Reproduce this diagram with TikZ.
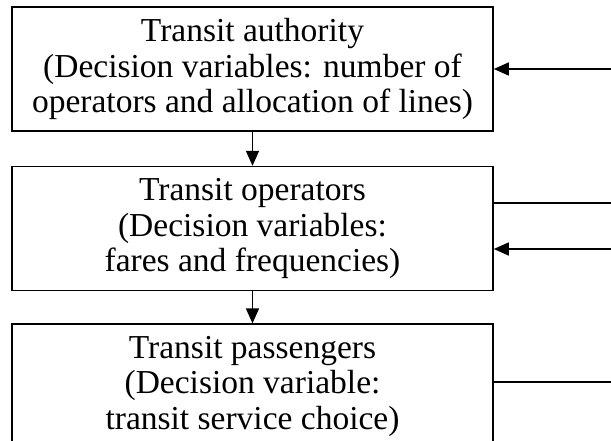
\documentclass[tikz,border=0pt]{standalone}
\usepackage{fontspec}
\setmainfont{Liberation Serif}
\usetikzlibrary{arrows.meta,positioning,calc}
\definecolor{ink}{HTML}{000000}

\begin{document}
\begin{tikzpicture}[
  x=1pt, y=1pt, >=Triangle, line cap=butt,
  level/.style={draw=ink, line width=1.6pt, align=center, inner sep=0pt,
                minimum width=481pt, minimum height=124pt,
                font=\fontsize{33.5}{35.5}\selectfont},
  fl/.style={-{Triangle[length=15pt,width=13pt]}, ink, line width=1.5pt},
  tie/.style={ink, line width=1.5pt}]

\clip (0,0) rectangle (611,-441);

% ---- the three levels -------------------------------------------------
\node[level] (authority) at (252.5,-69) {Transit authority\\
  (Decision variables: number of\\ operators and allocation of lines)};
\node[level, below=34pt of authority] (operators) {Transit operators\\
  (Decision variables:\\ fares and frequencies)};
\node[level, below=32pt of operators] (passengers) {Transit passengers\\
  (Decision variable:\\ transit service choice)};

% ---- downward links ---------------------------------------------------
\draw[fl] (authority) -- (operators);
\draw[fl] (operators) -- (passengers);

% ---- feedback lines at the right edge ---------------------------------
\coordinate (inA) at (611,-69);
\coordinate (outB) at (611,-203);
\coordinate (inB) at (611,-249);
\coordinate (outC) at (611,-382);

\draw[fl] (inA) -- (authority.east);
\draw[tie] (operators.east |- outB) -- (outB);
\draw[fl] (inB) -- (operators.east |- inB);
\draw[tie] (passengers.east |- outC) -- (outC);

\end{tikzpicture}
\end{document}
